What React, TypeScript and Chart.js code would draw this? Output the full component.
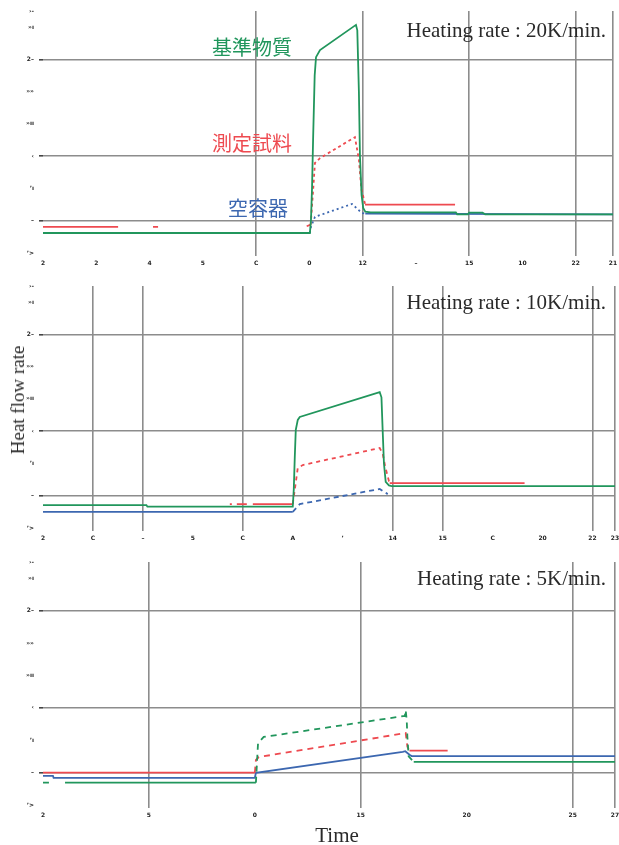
import React, { useEffect, useRef } from "react";
import { Chart, registerables } from "chart.js";
Chart.register(...registerables);

type Pt = [number, number | null];

// ---------- shared axis data ----------
const yTickValues = [-1, 0, 1, 2, 3, 4, 5, 6, 6.5];
const yTickLabels = ["ʼ>", "–", "ʼı", "‹", "»ıı", "»»", "2–", "»ı", "›-"];
const yGridValues = [0, 2, 5];

// ---------- panel 1 : 20K/min ----------
const p1XTicks = [0, 2, 4, 6, 8, 10, 12, 14, 16, 18, 20, 21.4];
const p1XLabels = ["2", "2", "4", "5", "C", "0", "12", "–", "15", "10", "22", "21"];
const p1XGrid = [8, 12, 16, 20, 21.4];
const p1GreenSolid: Pt[] = [
  [0, -0.38], [10.02, -0.38], [10.06, 0.0], [10.1, 1.0], [10.14, 2.5], [10.2, 4.5], [10.25, 5.07],
  [10.4, 5.29], [11.75, 6.07], [11.8, 5.9], [11.86, 4.0], [11.9, 2.0], [11.96, 0.8], [12.02, 0.4],
  [12.1, 0.28], [12.3, 0.26], [15.5, 0.26], [15.55, 0.2], [15.95, 0.2], [16.0, 0.25], [16.5, 0.25],
  [16.6, 0.2], [21.4, 0.2],
];
const p1RedSolid: Pt[] = [
  [0, -0.19], [2.82, -0.19], [3.5, null], [4.13, -0.19], [4.32, -0.19], [7, null],
  [9.9, -0.17], [10.05, -0.12], [11, null], [12.09, 0.5], [15.47, 0.5],
];
const p1RedDashed: Pt[] = [
  [10.05, -0.12], [10.15, 1.05], [10.21, 1.79], [10.4, 1.94], [11.71, 2.59], [11.86, 1.9],
  [11.95, 1.0], [12.09, 0.52],
];
const p1BlueSolid: Pt[] = [[0, -0.38], [10.02, -0.38], [11, null], [12.1, 0.22], [21.4, 0.2]];
const p1BlueDashed: Pt[] = [
  [10.02, -0.38], [10.06, -0.19], [10.21, 0.12], [11.6, 0.52], [11.97, 0.24], [12.1, 0.22],
];

// ---------- panel 2 : 10K/min ----------
const p2XTicks = [0, 2, 4, 6, 8, 10, 12, 14, 16, 18, 20, 22, 22.9];
const p2XLabels = ["2", "C", "–", "5", "C", "A", "ʼ", "14", "15", "C", "20", "22", "23"];
const p2XGrid = [2, 4, 8, 14, 16, 22, 22.9];
const p2GreenSolid: Pt[] = [
  [0, -0.29], [4.14, -0.29], [4.18, -0.34], [10.0, -0.34], [10.04, 0.2], [10.08, 1.2], [10.12, 2.04],
  [10.2, 2.35], [10.28, 2.44], [13.48, 3.21], [13.55, 3.05], [13.6, 2.0], [13.65, 1.0], [13.72, 0.43],
  [13.85, 0.32], [13.96, 0.3], [22.9, 0.3],
];
const p2RedSolid: Pt[] = [
  [7.48, -0.26], [7.56, -0.26], [7.65, null], [7.76, -0.26], [8.16, -0.26], [8.3, null],
  [8.4, -0.26], [10.0, -0.26], [11, null], [13.88, 0.39], [19.28, 0.39],
];
const p2RedDashed: Pt[] = [
  [10.0, -0.26], [10.1, 0.3], [10.2, 0.86], [10.4, 0.95], [13.48, 1.48], [13.6, 1.3], [13.7, 0.9],
  [13.85, 0.45], [13.9, 0.39],
];
const p2BlueSolid: Pt[] = [[0, -0.5], [10.0, -0.5]];
const p2BlueDashed: Pt[] = [[10.0, -0.5], [10.28, -0.26], [13.48, 0.21], [13.8, 0.05]];

// ---------- panel 3 : 5K/min ----------
const p3XTicks = [0, 5, 10, 15, 20, 25, 27];
const p3XLabels = ["2", "5", "0", "15", "20", "25", "27"];
const p3XGrid = [5, 15, 25, 27];
const p3GreenSolid: Pt[] = [
  [0, -0.31], [0.28, -0.31], [0.6, null], [1.04, -0.31], [10.05, -0.31], [12, null],
  [17.5, 0.33], [27, 0.33],
];
const p3GreenDashed: Pt[] = [
  [10.05, -0.31], [10.1, 0.3], [10.15, 0.91], [10.42, 1.1], [17.08, 1.75], [17.12, 1.93],
  [17.17, 1.6], [17.2, 1.1], [17.26, 0.5], [17.5, 0.33],
];
const p3RedSolid: Pt[] = [[0, 0], [10.0, 0], [12, null], [17.3, 0.68], [19.1, 0.68]];
const p3RedDashed: Pt[] = [
  [10.0, 0], [10.05, 0.39], [10.19, 0.48], [17.12, 1.22], [17.2, 0.8], [17.3, 0.68],
];
const p3BlueSolid: Pt[] = [
  [0, -0.1], [0.47, -0.1], [0.5, -0.16], [10.0, -0.16], [10.05, -0.01], [16.98, 0.64],
  [17.1, 0.66], [17.3, 0.55], [17.4, 0.51], [27, 0.51],
];

const GREEN = "#21965c";
const RED = "#ee4a50";
const BLUE = "#3c67b0";
const GRID = "#8c8c8c";
const SERIF = "'Liberation Serif', 'DejaVu Serif', serif";

type Series = { data: Pt[]; color: string; dash?: number[] };

type PanelProps = {
  top: number;
  height: number;
  padTop: number;
  right: number;
  xH: number;
  xMax: number;
  xTicks: number[];
  xLabels: string[];
  xGrid: number[];
  series: Series[];
};

function Panel(props: PanelProps) {
  const ref = useRef<HTMLCanvasElement | null>(null);
  useEffect(() => {
    if (!ref.current) return;
    const p = props;
    const chart = new Chart(ref.current, {
      type: "line",
      data: {
        datasets: p.series.map((s) => ({
          data: s.data.map(([x, y]) => ({ x, y })),
          borderColor: s.color,
          backgroundColor: s.color,
          borderWidth: 1.8,
          borderDash: s.dash || [],
          pointRadius: 0,
          tension: 0,
          spanGaps: false,
          fill: false,
        })),
      },
      options: {
        animation: false,
        responsive: false,
        devicePixelRatio: 1,
        layout: { padding: { top: p.padTop, right: 619 - p.right, left: 0, bottom: 0 } },
        plugins: { legend: { display: false }, tooltip: { enabled: false } },
        scales: {
          x: {
            type: "linear",
            min: 0,
            max: p.xMax,
            afterBuildTicks: (s: any) => {
              s.ticks = p.xTicks.map((v) => ({ value: v }));
            },
            afterFit: (s: any) => {
              s.height = p.xH;
              s.paddingLeft = 0;
              s.paddingRight = 0;
            },
            border: { display: false },
            grid: {
              color: (c: any) => (c.tick && p.xGrid.includes(c.tick.value) ? GRID : "rgba(0,0,0,0)"),
              tickColor: (c: any) => (c.tick && p.xGrid.includes(c.tick.value) ? GRID : "rgba(0,0,0,0)"),
              lineWidth: 1.6,
              drawTicks: true,
              tickLength: 3,
            },
            ticks: {
              autoSkip: false,
              maxRotation: 0,
              padding: 4,
              color: "#222",
              font: { size: 6, family: "'DejaVu Sans', sans-serif", weight: "bold" },
              callback: (_v: any, i: number) => p.xLabels[i],
            },
          },
          y: {
            type: "linear",
            min: -1,
            max: 6.5,
            afterBuildTicks: (s: any) => {
              s.ticks = yTickValues.map((v) => ({ value: v }));
            },
            afterFit: (s: any) => {
              s.width = 43;
              s.paddingTop = 0;
              s.paddingBottom = 0;
            },
            border: { display: false },
            grid: {
              color: (c: any) => (c.tick && yGridValues.includes(c.tick.value) ? GRID : "rgba(0,0,0,0)"),
              tickColor: (c: any) => (c.tick && yGridValues.includes(c.tick.value) ? "#444" : "rgba(0,0,0,0)"),
              lineWidth: 1.6,
              drawTicks: true,
              tickLength: 4,
            },
            ticks: {
              autoSkip: false,
              padding: 5,
              color: "#222",
              font: { size: 6, family: "'DejaVu Sans', sans-serif", weight: "bold" },
              callback: (_v: any, i: number) => yTickLabels[i],
            },
          },
        },
      } as any,
    });
    return () => chart.destroy();
  }, []);
  return (
    <canvas
      ref={ref}
      width={619}
      height={props.height}
      style={{ position: "absolute", left: 0, top: props.top, width: 619, height: props.height }}
    />
  );
}

const label = (
  text: string,
  style: React.CSSProperties
) => (
  <div style={{ position: "absolute", whiteSpace: "nowrap", lineHeight: "22px", ...style }}>{text}</div>
);

export default function App() {
  return (
    <div style={{ position: "absolute", left: 0, top: 0, width: 619, height: 845, background: "#fff", overflow: "hidden" }}>
      <Panel
        top={0}
        height={275}
        padTop={11}
        right={613}
        xH={22}
        xMax={21.4}
        xTicks={p1XTicks}
        xLabels={p1XLabels}
        xGrid={p1XGrid}
        series={[
          { data: p1GreenSolid, color: GREEN },
          { data: p1RedDashed, color: RED, dash: [3, 3] },
          { data: p1RedSolid, color: RED },
          { data: p1BlueDashed, color: BLUE, dash: [2, 3] },
          { data: p1BlueSolid, color: BLUE },
        ]}
      />
      <Panel
        top={275}
        height={275}
        padTop={11}
        right={615}
        xH={22}
        xMax={22.9}
        xTicks={p2XTicks}
        xLabels={p2XLabels}
        xGrid={p2XGrid}
        series={[
          { data: p2GreenSolid, color: GREEN },
          { data: p2RedDashed, color: RED, dash: [4, 4] },
          { data: p2RedSolid, color: RED },
          { data: p2BlueDashed, color: BLUE, dash: [5, 4] },
          { data: p2BlueSolid, color: BLUE },
        ]}
      />
      <Panel
        top={550}
        height={295}
        padTop={12}
        right={615}
        xH={40}
        xMax={27}
        xTicks={p3XTicks}
        xLabels={p3XLabels}
        xGrid={p3XGrid}
        series={[
          { data: p3GreenDashed, color: GREEN, dash: [6, 5] },
          { data: p3GreenSolid, color: GREEN },
          { data: p3RedDashed, color: RED, dash: [6, 5] },
          { data: p3RedSolid, color: RED },
          { data: p3BlueSolid, color: BLUE },
        ]}
      />
      {label("Heating rate : 20K/min.", { right: 13, top: 19, fontFamily: SERIF, fontSize: 21, color: "#2a2a2a" })}
      {label("Heating rate : 10K/min.", { right: 13, top: 291, fontFamily: SERIF, fontSize: 21, color: "#2a2a2a" })}
      {label("Heating rate : 5K/min.", { right: 13, top: 567, fontFamily: SERIF, fontSize: 21, color: "#2a2a2a" })}
      {label("基準物質", { left: 212, top: 36, fontFamily: "'Noto Sans CJK JP', sans-serif", fontSize: 20, color: GREEN })}
      {label("測定試料", { left: 212, top: 132, fontFamily: "'Noto Sans CJK JP', sans-serif", fontSize: 20, color: RED })}
      {label("空容器", { left: 228, top: 197, fontFamily: "'Noto Sans CJK JP', sans-serif", fontSize: 20, color: BLUE })}
      {label("Heat flow rate", {
        left: 18,
        top: 400,
        transform: "translate(-50%, -50%) rotate(-90deg)",
        fontFamily: SERIF,
        fontSize: 19,
        color: "#2a2a2a",
      })}
      {label("Time", {
        left: 337,
        top: 835,
        transform: "translate(-50%, -50%)",
        fontFamily: SERIF,
        fontSize: 21,
        color: "#2a2a2a",
      })}
    </div>
  );
}
